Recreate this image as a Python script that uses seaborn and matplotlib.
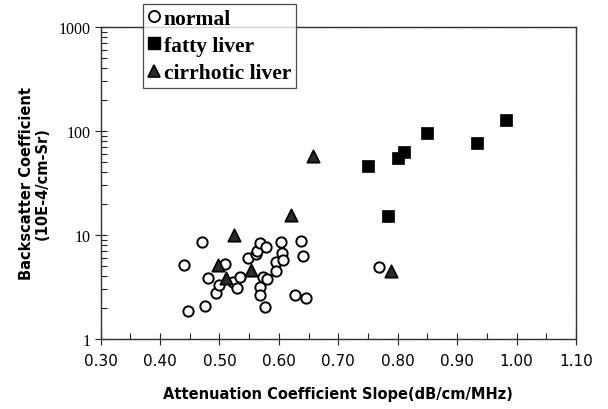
import numpy as np
import pandas as pd
import matplotlib
matplotlib.use("Agg")
import matplotlib.pyplot as plt
import seaborn as sns
from matplotlib.lines import Line2D
from matplotlib.ticker import FixedLocator, LogLocator, NullFormatter, FixedFormatter

# ---- data ----
normal_x = [0.441, 0.447, 0.470, 0.476, 0.481, 0.494, 0.500, 0.510, 0.523, 0.529,
            0.534, 0.549, 0.561, 0.564, 0.569, 0.578, 0.569, 0.569, 0.577, 0.574,
            0.580, 0.595, 0.595, 0.603, 0.606, 0.607, 0.638, 0.641, 0.627, 0.646,
            0.768]
normal_y = [5.18, 1.85, 8.5, 2.07, 3.86, 2.76, 3.32, 5.3, 3.55, 3.1,
            3.98, 5.95, 6.5, 6.97, 8.45, 7.7, 3.17, 2.65, 2.03, 3.95,
            3.78, 5.55, 4.54, 8.55, 6.75, 5.75, 8.8, 6.32, 2.63, 2.47,
            4.89]
fatty_x = [0.750, 0.783, 0.801, 0.811, 0.850, 0.933, 0.982]
fatty_y = [46.5, 15.3, 55.0, 63.5, 95.5, 76.5, 128.0]
cirr_x = [0.498, 0.511, 0.524, 0.553, 0.621, 0.657, 0.789]
cirr_y = [5.2, 3.82, 10.05, 4.62, 15.7, 57.0, 4.54]

groups = ["normal", "fatty liver", "cirrhotic liver"]
x_ticks = [0.30, 0.40, 0.50, 0.60, 0.70, 0.80, 0.90, 1.00, 1.10]
x_tick_labels = ["0.30", "0.40", "0.50", "0.60", "0.70", "0.80", "0.90", "1.00", "1.10"]
y_ticks = [1, 10, 100, 1000]
y_tick_labels = ["1", "10", "100", "1000"]

df = pd.concat([
    pd.DataFrame({"x": normal_x, "y": normal_y, "group": groups[0]}),
    pd.DataFrame({"x": fatty_x, "y": fatty_y, "group": groups[1]}),
    pd.DataFrame({"x": cirr_x, "y": cirr_y, "group": groups[2]}),
])

sns.set_style("white")
plt.rcParams["font.family"] = ["DejaVu Sans"]
plt.rcParams["text.color"] = "black"
plt.rcParams["axes.labelcolor"] = "black"
plt.rcParams["xtick.color"] = "black"
plt.rcParams["ytick.color"] = "black"

fig = plt.figure(figsize=(6.08, 4.10), dpi=100)
ax = fig.add_axes([100.5 / 608, 1 - 340 / 410, 475.5 / 608, 312 / 410])

sns.scatterplot(data=df[df.group == groups[0]], x="x", y="y", ax=ax, marker="o",
                s=55, facecolor="white", edgecolor="black", linewidth=1.4, legend=False, zorder=3)
sns.scatterplot(data=df[df.group == groups[1]], x="x", y="y", ax=ax, marker="s",
                s=85, facecolor="black", edgecolor="black", linewidth=0.5, legend=False, zorder=3)
sns.scatterplot(data=df[df.group == groups[2]], x="x", y="y", ax=ax, marker="^",
                s=80, facecolor="#2a2a2a", edgecolor="black", linewidth=1.2, legend=False, zorder=4)

ax.set_yscale("log")
ax.set_xlim(0.30, 1.10)
ax.set_ylim(1, 1000)

ax.xaxis.set_major_locator(FixedLocator(x_ticks))
ax.xaxis.set_major_formatter(FixedFormatter(x_tick_labels))
ax.xaxis.set_minor_locator(FixedLocator(np.arange(0.35, 1.10, 0.10)))
ax.yaxis.set_major_locator(FixedLocator(y_ticks))
ax.yaxis.set_major_formatter(FixedFormatter(y_tick_labels))
ax.yaxis.set_minor_locator(LogLocator(base=10, subs=np.arange(2, 10)))
ax.yaxis.set_minor_formatter(NullFormatter())

ax.tick_params(axis="x", which="major", direction="inout", length=8, width=0.8,
               color="#222222", bottom=True, labelsize=11, pad=6, labelcolor="black")
ax.tick_params(axis="x", which="minor", direction="in", length=4, width=0.8,
               color="#222222", bottom=True)
ax.tick_params(axis="y", which="major", direction="inout", length=8, width=0.8,
               color="#222222", left=True, pad=3, labelcolor="black")
ax.tick_params(axis="y", which="minor", direction="in", length=4, width=0.8,
               color="#222222", left=True)
for lab in ax.get_yticklabels():
    lab.set_fontfamily("Liberation Serif")
    lab.set_fontsize(11.5)

for sp in ax.spines.values():
    sp.set_visible(True)
    sp.set_color("#333333")
    sp.set_linewidth(1.0)
    sp.set_linestyle((0, (1.2, 0.8)))

ax.set_xlabel("Attenuation Coefficient Slope(dB/cm/MHz)", fontsize=10.5,
              fontweight="bold", labelpad=13, color="black")
ax.set_ylabel("Backscatter Coefficient\n(10E-4/cm-Sr)", fontsize=10.5,
              fontweight="bold", linespacing=1.1, color="black")
ax.yaxis.set_label_coords(-0.106, 0.5)

handles = [
    Line2D([], [], marker="o", linestyle="none", markersize=8, markerfacecolor="white",
           markeredgecolor="black", markeredgewidth=1.3),
    Line2D([], [], marker="s", linestyle="none", markersize=9, markerfacecolor="black",
           markeredgecolor="black"),
    Line2D([], [], marker="^", linestyle="none", markersize=9, markerfacecolor="#2a2a2a",
           markeredgecolor="black", markeredgewidth=1.2),
]
leg = ax.legend(handles, groups, loc="upper left",
                bbox_to_anchor=(143 / 608, 1 - 5 / 410), bbox_transform=fig.transFigure,
                prop={"family": "Liberation Serif", "weight": "bold", "size": 15.5},
                frameon=True, fancybox=False, shadow=False, borderaxespad=0,
                borderpad=0.22, labelspacing=0.33, handlelength=0.6, handletextpad=0.15)
leg.get_frame().set_edgecolor("#222222")
leg.get_frame().set_linewidth(0.9)
leg.set_zorder(10)

fig.savefig("out.png", dpi=100, facecolor="white")
